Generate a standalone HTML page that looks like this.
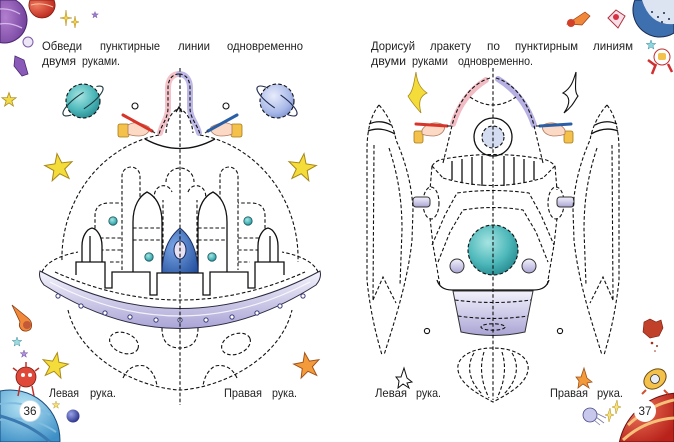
<!DOCTYPE html>
<html><head><meta charset="utf-8">
<style>
html,body{margin:0;padding:0;background:#fff;width:674px;height:442px;overflow:hidden;}
svg{display:block;}
text{font-family:"Liberation Sans",sans-serif;fill:#222;font-size:12px;}
.d{fill:none;stroke:#111;stroke-width:1.1;stroke-dasharray:3.6 2.2;}
.df{stroke:#111;stroke-width:1.1;stroke-dasharray:3.6 2.2;}
.s{fill:none;stroke:#111;stroke-width:1.3;}
.sw{fill:#fff;stroke:#111;stroke-width:1.3;}
</style></head>
<body>
<svg width="674" height="442" viewBox="0 0 674 442" xmlns="http://www.w3.org/2000/svg" overflow="hidden">
<defs>
<polygon id="star" points="0,-10 2.35,-3.24 9.51,-3.09 3.8,1.24 5.88,8.09 0,4 -5.88,8.09 -3.8,1.24 -9.51,-3.09 -2.35,-3.24"/>
<linearGradient id="lav" x1="0" y1="0" x2="0" y2="1"><stop offset="0" stop-color="#f2f1fb"/><stop offset="0.5" stop-color="#cfcce9"/><stop offset="1" stop-color="#a9a4d3"/></linearGradient>
<linearGradient id="band" x1="0" y1="0" x2="0" y2="1"><stop offset="0" stop-color="#f5f4fc"/><stop offset="1" stop-color="#aaa5d6"/></linearGradient>
<radialGradient id="teal" cx="0.4" cy="0.35" r="0.7"><stop offset="0" stop-color="#a6e4e2"/><stop offset="0.6" stop-color="#4fb9bb"/><stop offset="1" stop-color="#258a90"/></radialGradient>
<radialGradient id="lavp" cx="0.4" cy="0.35" r="0.7"><stop offset="0" stop-color="#e8ecfb"/><stop offset="0.7" stop-color="#a9b9e8"/><stop offset="1" stop-color="#7f93d2"/></radialGradient>
<radialGradient id="blueR" cx="0.35" cy="0.4" r="0.8"><stop offset="0" stop-color="#7aa6e6"/><stop offset="1" stop-color="#24509e"/></radialGradient>
<radialGradient id="ball" cx="0.35" cy="0.35" r="0.7"><stop offset="0" stop-color="#9aa4e6"/><stop offset="1" stop-color="#28308a"/></radialGradient>
<radialGradient id="redp" cx="0.3" cy="0.3" r="0.8"><stop offset="0" stop-color="#f07a5e"/><stop offset="1" stop-color="#b8221a"/></radialGradient>
<radialGradient id="bluep" cx="0.4" cy="0.3" r="0.8"><stop offset="0" stop-color="#b8e6f6"/><stop offset="1" stop-color="#3d8fc6"/></radialGradient>
<radialGradient id="purp" cx="0.2" cy="0.4" r="0.9"><stop offset="0" stop-color="#b37fd0"/><stop offset="1" stop-color="#6a3a96"/></radialGradient>
</defs>

<!-- ============ TOP-LEFT DECORATIONS ============ -->
<path d="M0,0 L15.36,0 A23,23 0 0 1 0,42.65 Z" fill="url(#purp)" stroke="#4a2570" stroke-width="1"/>
<path d="M0,9 Q10,8 20,14 M0,24 Q10,22 22,28" fill="none" stroke="#d6b8ea" stroke-width="1.3"/>
<path d="M30,0 A13,13 0 1 0 54,0 Z" fill="url(#redp)" stroke="#7a1a10" stroke-width="0.8"/>
<path d="M31,5 Q42,2 53,7" fill="none" stroke="#f6c0a0" stroke-width="1"/>
<circle cx="28" cy="42" r="5" fill="#ece6f7" stroke="#7a5aa6" stroke-width="1"/>
<path d="M15,56 L24,60 L28,74 L22,76 L14,66 Z" fill="#8a5ab8" stroke="#4a2a70" stroke-width="0.8"/>
<path d="M66,10 L67,17 L72,18 L67,19 L66,26 L65,19 L60,18 L65,17 Z" fill="#f2d34a" stroke="#b08a20" stroke-width="0.5"/>
<path d="M75,16 L76,21 L79,22 L76,23 L75,28 L74,23 L71,22 L74,21 Z" fill="#f2d34a" stroke="#b08a20" stroke-width="0.5"/>
<use href="#star" transform="translate(95,15) scale(0.35)" fill="#a07ad0" stroke="#5a3a90" stroke-width="1"/>
<use href="#star" transform="translate(9,100) scale(0.75)" fill="#f2da4a" stroke="#a88818" stroke-width="1"/>

<!-- ============ LEFT PAGE TEXT ============ -->
<text x="42" y="50" textLength="40" lengthAdjust="spacingAndGlyphs">Обведи</text>
<text x="100" y="50" textLength="60" lengthAdjust="spacingAndGlyphs">пунктирные</text>
<text x="178" y="50" textLength="32" lengthAdjust="spacingAndGlyphs">линии</text>
<text x="227" y="50" textLength="76" lengthAdjust="spacingAndGlyphs">одновременно</text>
<text x="42" y="65" textLength="34" lengthAdjust="spacingAndGlyphs">двумя</text>
<text x="82" y="65" textLength="38" lengthAdjust="spacingAndGlyphs">руками.</text>

<!-- planets left -->
<circle cx="83" cy="101" r="17" fill="url(#teal)" class="df"/>
<ellipse cx="83" cy="101" rx="24" ry="7" transform="rotate(-35 83 101)" fill="none" stroke="#1f3a40" stroke-width="1.1" stroke-dasharray="40 14" stroke-dashoffset="10"/>
<circle cx="277" cy="101" r="17" fill="url(#lavp)" class="df"/>
<ellipse cx="277" cy="101" rx="24" ry="7" transform="rotate(35 277 101)" fill="none" stroke="#1f2a50" stroke-width="1.1" stroke-dasharray="40 14" stroke-dashoffset="30"/>
<circle cx="135" cy="106" r="3" fill="#fff" stroke="#111" stroke-width="1.1"/>
<circle cx="226" cy="106" r="3" fill="#fff" stroke="#111" stroke-width="1.1"/>

<!-- stars left -->
<use href="#star" transform="translate(59,168) scale(1.45) rotate(-8)" fill="#f4dc3a" stroke="#a88818" stroke-width="0.7"/>
<use href="#star" transform="translate(302,168) scale(1.45) rotate(8)" fill="#f4dc3a" stroke="#a88818" stroke-width="0.7"/>

<!-- ============ UFO ============ -->
<path d="M179,74 C172,74 168,80 168,88 L168,108 C168,118 162,124 160,133" fill="none" stroke="#f4c3ca" stroke-width="6" stroke-linecap="round"/>
<path d="M179,74 C186,74 190,80 190,88 L190,108 C190,118 197,124 199,133" fill="none" stroke="#bdb8e6" stroke-width="6" stroke-linecap="round"/>
<path class="d" d="M179,74 C172,74 168,80 168,88 L168,108 C168,118 162,124 159,134"/>
<path class="d" d="M179,74 C186,74 190,80 190,88 L190,108 C190,118 197,124 200,134"/>
<path class="d" d="M166,133 Q167,114 179,108 Q191,114 193,133"/>
<path class="s" d="M176,112 L179,107 L182,112" stroke-width="1"/>

<!-- dome -->
<path class="d" d="M159,135 A118,125 0 0 0 62,262"/>
<path class="d" d="M200,135 A118,125 0 0 1 298,262"/>
<path class="s" d="M145,139 Q180,158 215,139"/>

<!-- dashed towers -->
<path class="d" d="M122,270 V176 A9,9 0 0 1 140,176 V270"/>
<path class="d" d="M220,270 V176 A9,9 0 0 1 238,176 V270"/>
<path class="d" d="M163,272 V200 M197,272 V200 M166,182 A14,14 0 0 1 194,182"/>
<path class="d" d="M155,200 A8,9 0 0 1 172,192 M188,192 A8,9 0 0 1 205,200"/>
<path class="d" d="M95,275 V216 Q95,203 109,203 L122,203"/>
<path class="d" d="M265,275 V216 Q265,203 251,203 L238,203"/>
<path class="d" d="M100,238 H122 M100,250 H122 M238,238 H260 M238,250 H260"/>
<path class="d" d="M110,262 H122 M238,262 H250"/>

<!-- solid rockets -->
<path class="sw" d="M133,275 V222 C133,205 140,196 147,192 C155,196 162,205 162,222 V275"/>
<path class="sw" d="M198,275 V222 C198,205 205,196 213,192 C220,196 227,205 227,222 V275"/>
<path class="d" d="M133,228 H162 M133,240 H162 M198,228 H227 M198,240 H227"/>
<path class="sw" d="M82,272 V246 C82,236 87,229 92,228 C97,229 102,236 102,246 V272"/>
<path class="sw" d="M258,272 V246 C258,236 263,229 268,228 C273,229 278,236 278,246 V272"/>
<path class="s" d="M90,236 V262 M270,236 V262" stroke-width="1"/>

<!-- blue rocket -->
<path d="M162,274 C162,250 170,236 180,228 C190,236 198,250 198,274 Z" fill="url(#blueR)" stroke="#1a2a60" stroke-width="1"/>
<ellipse cx="180" cy="250" rx="6" ry="9" fill="#e8e2f2" stroke="#1a2a60" stroke-width="1"/>

<!-- teal dots -->
<circle cx="113" cy="221" r="4.2" fill="url(#teal)" stroke="#1a5960" stroke-width="0.8"/>
<circle cx="248" cy="221" r="4.2" fill="url(#teal)" stroke="#1a5960" stroke-width="0.8"/>
<circle cx="149" cy="257" r="4.2" fill="url(#teal)" stroke="#1a5960" stroke-width="0.8"/>
<circle cx="212" cy="257" r="4.2" fill="url(#teal)" stroke="#1a5960" stroke-width="0.8"/>

<!-- wall -->
<path d="M74,262 L105,262 L105,288 L112,288 L112,272 L150,272 L150,295 L157,295 L157,273 L203,273 L203,295 L210,295 L210,272 L248,272 L248,288 L255,288 L255,262 L286,262 L290,280 Q180,330 70,280 Z" fill="#fff"/>
<path class="s" d="M76,275 L76,262 L105,262 L105,288 L112,288 L112,272 L150,272 L150,295 L157,295 L157,273 L203,273 L203,295 L210,295 L210,272 L248,272 L248,288 L255,288 L255,262 L284,262 L284,275"/>

<!-- rim -->
<path class="d" d="M42,272 Q48,258 78,252"/>
<path class="d" d="M318,272 Q312,258 282,252"/>
<path class="d" d="M55,272 Q180,328 305,272"/>
<path d="M40,271 Q180,346 320,271 Q322,278 316,285 Q180,372 44,285 Q38,278 40,271 Z" fill="url(#band)" stroke="#2a2a40" stroke-width="1"/>
<path d="M50,282 Q180,350 310,282" fill="none" stroke="#fff" stroke-width="1.2" opacity="0.8"/>
<g fill="#fff" stroke="#3a3a7a" stroke-width="1">
<circle cx="58" cy="296" r="2.1"/><circle cx="81" cy="306" r="2.1"/><circle cx="105" cy="313" r="2.1"/><circle cx="130" cy="317" r="2.1"/><circle cx="156" cy="320" r="2.1"/><circle cx="180" cy="320" r="2.1"/><circle cx="206" cy="320" r="2.1"/><circle cx="232" cy="317" r="2.1"/><circle cx="257" cy="313" r="2.1"/><circle cx="280" cy="306" r="2.1"/><circle cx="303" cy="296" r="2.1"/>
</g>

<!-- bowl -->
<path class="d" d="M68,310 C80,360 140,388 180,390 C220,388 280,360 292,310"/>
<ellipse class="d" cx="124" cy="343" rx="15" ry="10" transform="rotate(22 124 343)"/>
<ellipse class="d" cx="236" cy="344" rx="15" ry="10" transform="rotate(-22 236 344)"/>
<path class="d" d="M162,328 Q162,348 180,348 Q198,348 198,328"/>
<path class="d" d="M123,378 Q130,363 145,366 Q155,372 157,386"/>
<path class="d" d="M237,378 Q230,363 215,366 Q205,372 203,386"/>

<!-- center line left -->
<path class="d" d="M180,68 V405"/>

<!-- left page hands -->
<g transform="translate(118,113)">
 <rect x="0" y="11" width="11" height="13" rx="2" fill="#f4c24a" stroke="#a67a1a" stroke-width="0.8"/>
 <path d="M10,12 C16,8 24,10 31,14 C33,18 28,23 21,23 C15,23 12,22 10,21 Z" fill="#fbd9c4" stroke="#b07a60" stroke-width="0.8"/>
 <path d="M5,2 L34,18" stroke="#d8342a" stroke-width="3" stroke-linecap="round"/>
 <path d="M34,18 L37,20" stroke="#333" stroke-width="1.2"/>
</g>
<g transform="translate(242,113) scale(-1,1)">
 <rect x="0" y="11" width="11" height="13" rx="2" fill="#f4c24a" stroke="#a67a1a" stroke-width="0.8"/>
 <path d="M10,12 C16,8 24,10 31,14 C33,18 28,23 21,23 C15,23 12,22 10,21 Z" fill="#fbd9c4" stroke="#b07a60" stroke-width="0.8"/>
 <path d="M5,2 L34,18" stroke="#2a5fa8" stroke-width="3" stroke-linecap="round"/>
 <path d="M34,18 L37,20" stroke="#333" stroke-width="1.2"/>
</g>

<!-- labels left -->
<text x="49" y="397" textLength="30" lengthAdjust="spacingAndGlyphs">Левая</text>
<text x="90" y="397" textLength="26" lengthAdjust="spacingAndGlyphs">рука.</text>
<text x="224" y="397" textLength="38" lengthAdjust="spacingAndGlyphs">Правая</text>
<text x="272" y="397" textLength="25" lengthAdjust="spacingAndGlyphs">рука.</text>

<!-- bottom-left decorations -->
<path d="M12,305 L28,318 C33,322 33,330 27,331 C21,332 18,326 20,322 Z" fill="#f08a3a" stroke="#8a3a10" stroke-width="0.8"/>
<circle cx="27" cy="325" r="4" fill="#c25a3a"/>
<use href="#star" transform="translate(17,342) scale(0.5)" fill="#9fdce0" stroke="#3a8a9a" stroke-width="1"/>
<use href="#star" transform="translate(24,354) scale(0.4)" fill="#b090dc" stroke="#5a3a90" stroke-width="1"/>
<use href="#star" transform="translate(55,366) scale(1.35) rotate(10)" fill="#f4dc3a" stroke="#a88818" stroke-width="0.7"/>
<path d="M0,391 A50,50 0 0 1 59.9,442 L0,442 Z" fill="url(#bluep)" stroke="#1a4a7a" stroke-width="1"/>
<path d="M0,404 Q25,400 50,415 M0,420 Q30,414 56,432" fill="none" stroke="#7fbce0" stroke-width="2"/>
<path d="M0,416 Q30,424 50,442" fill="none" stroke="#3a7ab0" stroke-width="3"/>
<circle cx="26" cy="377" r="10" fill="#e0483a" stroke="#7a1a10" stroke-width="0.8"/>
<path d="M20,386 L18,396 M32,386 L34,396 M26,367 V362 M17,371 L13,368 M35,371 L39,368" stroke="#c0302a" stroke-width="1.5"/>
<circle cx="23" cy="375" r="2" fill="#fff"/><circle cx="30" cy="375" r="2" fill="#fff"/>
<circle cx="30" cy="411" r="10.5" fill="#fff" stroke="#d0e0ee" stroke-width="0.8"/>
<text x="30" y="415" text-anchor="middle" font-size="11" textLength="13" lengthAdjust="spacingAndGlyphs">36</text>
<circle cx="73" cy="416" r="6.5" fill="url(#ball)"/>
<use href="#star" transform="translate(56,405) scale(0.4)" fill="#f6e07a" stroke="#b09020" stroke-width="1"/>
<use href="#star" transform="translate(307,366) scale(1.35) rotate(-10)" fill="#f39a3a" stroke="#a0501a" stroke-width="0.7"/>

<!-- ============ RIGHT PAGE TEXT ============ -->
<text x="371" y="50" textLength="44" lengthAdjust="spacingAndGlyphs">Дорисуй</text>
<text x="430" y="50" textLength="41" lengthAdjust="spacingAndGlyphs">лракету</text>
<text x="487" y="50" textLength="13" lengthAdjust="spacingAndGlyphs">по</text>
<text x="515" y="50" textLength="63" lengthAdjust="spacingAndGlyphs">пунктирным</text>
<text x="593" y="50" textLength="40" lengthAdjust="spacingAndGlyphs">линиям</text>
<text x="371" y="65" textLength="35" lengthAdjust="spacingAndGlyphs">двуми</text>
<text x="412" y="65" textLength="36" lengthAdjust="spacingAndGlyphs">руками</text>
<text x="458" y="65" textLength="75" lengthAdjust="spacingAndGlyphs">одновременно.</text>

<!-- top-right decorations -->
<path d="M567,24 L585,12 L590,16 L582,25 Z" fill="#f0873a" stroke="#9a3a10" stroke-width="0.7"/>
<circle cx="571" cy="23" r="4" fill="#d2402a"/>
<path d="M608,18 L616,10 L625,16 L618,28 Z" fill="#f6e0e8" stroke="#b03040" stroke-width="1"/>
<circle cx="616" cy="17" r="3" fill="#d83040"/>
<path d="M634.9,0 A27,27 0 0 0 674,33.1 L674,0 Z" fill="#3e6fae" stroke="#1a2a50" stroke-width="1"/>
<path d="M642,0 Q650,26 674,24 L674,0 Z" fill="#dce4f2"/>
<g fill="#1a2a50"><circle cx="652" cy="12" r="1"/><circle cx="658" cy="17" r="1"/><circle cx="664" cy="13" r="1"/><circle cx="662" cy="22" r="1"/><circle cx="669" cy="19" r="1"/></g>
<use href="#star" transform="translate(651,45) scale(0.5)" fill="#8fd6e0" stroke="#3a8a9a" stroke-width="1"/>
<circle cx="662" cy="57" r="8" fill="#fff" stroke="#c03030" stroke-width="1"/>
<rect x="658" y="53" width="8" height="7" rx="2" fill="#f4c24a"/>
<path d="M656,64 L652,74 M668,64 L672,72 M656,66 L648,60" stroke="#d03030" stroke-width="2.5"/>

<!-- right page stars -->
<path d="M416,72 C417,82 420,88 427,93 C420,96 418,102 421,113 C414,105 410,100 408,96 C413,92 414,82 416,72 Z" fill="#f4dc3a" stroke="#a88818" stroke-width="0.8"/>
<path d="M576,72 C573,82 571,88 563,93 C570,96 571,103 564,113 C573,106 575,100 578,96 C574,92 576,82 576,72 Z" fill="#fff" stroke="#111" stroke-width="1.1"/>

<!-- ============ ROCKET ============ -->
<path d="M486,80 Q462,95 453,124" fill="none" stroke="#f2bcc4" stroke-width="6" stroke-linecap="round"/>
<path d="M498,79 Q524,95 534,125" fill="none" stroke="#b6b1e2" stroke-width="6" stroke-linecap="round"/>
<path class="d" d="M490,78 C470,84 456,105 451,130 L443,163"/>
<path class="d" d="M496,78 C516,84 530,105 535,130 L543,163"/>
<path class="d" d="M470,97 Q493,113 516,97"/>
<circle cx="493" cy="137" r="19" class="sw" stroke-width="1.5"/>
<circle cx="493" cy="137" r="11" fill="#d4dcf2" class="df"/>

<!-- collar -->
<path class="d" d="M432,166 Q436,160 444,159 Q493,150 542,159 Q550,160 555,166"/>
<path class="d" d="M443,178 Q493,193 543,178"/>
<path class="d" d="M432,166 L443,178 M555,166 L543,178"/>
<g class="s" stroke-width="1.2">
<path d="M452,161 V180 M462,159 V183 M472,157 V185 M482,156 V186 M504,156 V186 M514,157 V185 M524,159 V183 M534,161 V180"/>
</g>

<!-- body sides -->
<path class="d" d="M432,166 L430,190 M430,218 L433,245 L437,268 L440,286"/>
<path class="d" d="M555,166 L557,190 M557,218 L554,245 L550,268 L547,286"/>
<ellipse class="d" cx="431" cy="203" rx="8" ry="16"/>
<ellipse class="d" cx="556" cy="203" rx="8" ry="16"/>
<rect x="413" y="197" width="17" height="10" rx="3" fill="url(#lav)" stroke="#333" stroke-width="1"/>
<rect x="557" y="197" width="17" height="10" rx="3" fill="url(#lav)" stroke="#333" stroke-width="1"/>

<!-- chevrons -->
<path class="d" d="M432,245 L445,215 L457,193 Q493,188 529,193 L541,215 L554,245"/>
<path class="d" d="M438,262 L450,232 L463,210 Q493,205 523,210 L536,232 L548,262"/>

<path class="s" d="M437,280 Q440,290 452,290 L534,290 Q546,290 549,280" stroke-width="1.1"/>

<!-- sphere & circles -->
<circle cx="493" cy="250" r="25" fill="url(#teal)" class="df"/>
<circle cx="457" cy="266" r="7" fill="url(#lav)" stroke="#333" stroke-width="1"/>
<circle cx="529" cy="266" r="7" fill="url(#lav)" stroke="#333" stroke-width="1"/>

<!-- nozzle -->
<path d="M453,291 L533,291 L525,332 Q493,339 461,332 Z" fill="url(#lav)" stroke="#333" stroke-width="1"/>
<path class="d" d="M455,300 Q493,305 531,300"/>
<path class="d" d="M458,316 Q493,321 528,316"/>
<ellipse class="d" cx="493" cy="327" rx="12" ry="3.2"/>

<!-- flame -->
<path class="d" d="M493,348 C470,348 456,358 458,370 C460,385 480,395 493,402 C506,395 526,385 528,370 C530,358 516,348 493,348 Z"/>
<path class="d" d="M474,353 C466,366 469,381 482,394 M484,352 C479,368 482,384 489,398 M512,353 C520,366 517,381 504,394 M502,352 C507,368 504,384 497,398"/>

<circle cx="427" cy="331" r="2.6" fill="#fff" stroke="#111" stroke-width="1.1"/>
<circle cx="560" cy="331" r="2.6" fill="#fff" stroke="#111" stroke-width="1.1"/>

<!-- center line right -->
<path class="d" d="M493,68 V400"/>

<!-- boosters -->
<g>
<path class="d" d="M379,105 C371,115 367,130 367,150 L367,280 C370,310 376,335 382,355"/>
<path class="d" d="M379,105 C388,115 394,128 396,140 C405,160 412,185 413,210 L412,240 C408,280 395,320 384,355"/>
<path class="d" d="M374,145 L373,300"/>
<path class="d" d="M389,148 C398,175 402,200 402,230 L400,285"/>
<path class="d" d="M373,300 L383,277 L396,303"/>
<path class="s" d="M369,124 Q380,119 391,125 M368,131 Q381,126 395,134" stroke-width="1.2"/>
</g>
<g transform="translate(986,0) scale(-1,1)">
<path class="d" d="M379,105 C371,115 367,130 367,150 L367,280 C370,310 376,335 382,355"/>
<path class="d" d="M379,105 C388,115 394,128 396,140 C405,160 412,185 413,210 L412,240 C408,280 395,320 384,355"/>
<path class="d" d="M374,145 L373,300"/>
<path class="d" d="M389,148 C398,175 402,200 402,230 L400,285"/>
<path class="d" d="M373,300 L383,277 L396,303"/>
<path class="s" d="M369,124 Q380,119 391,125 M368,131 Q381,126 395,134" stroke-width="1.2"/>
</g>

<!-- right page hands -->
<g transform="translate(414,114)">
 <rect x="0" y="17" width="9" height="12" rx="2" fill="#f4c24a" stroke="#a67a1a" stroke-width="0.8"/>
 <path d="M8,16 C12,9 22,7 30,11 C32,16 28,21 20,22 C14,22 10,21 8,20 Z" fill="#fbd9c4" stroke="#b07a60" stroke-width="0.8"/>
 <path d="M2,10 L33,12" stroke="#d8342a" stroke-width="3" stroke-linecap="round"/>
 <path d="M33,12 L37,12" stroke="#333" stroke-width="1.2"/>
</g>
<g transform="translate(573,114) scale(-1,1)">
 <rect x="0" y="17" width="9" height="12" rx="2" fill="#f4c24a" stroke="#a67a1a" stroke-width="0.8"/>
 <path d="M8,16 C12,9 22,7 30,11 C32,16 28,21 20,22 C14,22 10,21 8,20 Z" fill="#fbd9c4" stroke="#b07a60" stroke-width="0.8"/>
 <path d="M2,10 L33,12" stroke="#2a5fa8" stroke-width="3" stroke-linecap="round"/>
 <path d="M33,12 L37,12" stroke="#333" stroke-width="1.2"/>
</g>

<!-- labels right -->
<text x="375" y="397" textLength="32" lengthAdjust="spacingAndGlyphs">Левая</text>
<text x="416" y="397" textLength="25" lengthAdjust="spacingAndGlyphs">рука.</text>
<text x="550" y="397" textLength="38" lengthAdjust="spacingAndGlyphs">Правая</text>
<text x="597" y="397" textLength="26" lengthAdjust="spacingAndGlyphs">рука.</text>

<!-- bottom-right decorations -->
<path d="M404,368 L407,378 L412,382 L407,383 L409,388 L403,384 L398,388 L399,381 L396,377 L401,377 Z" fill="#fff" stroke="#111" stroke-width="1"/>
<path d="M584,368 L587,378 L592,382 L587,383 L589,388 L583,384 L578,388 L579,381 L576,377 L581,377 Z" fill="#f39a3a" stroke="#a0501a" stroke-width="0.8"/>
<path d="M644,322 L650,319 L656,322 L661,320 L663,328 L659,336 L650,338 L643,332 Z" fill="#c0402a" stroke="#7a1a10" stroke-width="0.6"/>
<circle cx="652" cy="343" r="1.3" fill="#a0301a"/><circle cx="657" cy="346" r="1" fill="#a0301a"/><circle cx="655" cy="351" r="0.8" fill="#a0301a"/>
<path d="M619.4,442 A62,62 0 0 1 674,393.3 L674,442 Z" fill="url(#redp)" stroke="#6a1010" stroke-width="1"/>
<path d="M628,425 Q650,405 674,400 M623,440 Q645,420 674,418" fill="none" stroke="#f4c07a" stroke-width="3"/>
<circle cx="645" cy="411" r="11" fill="#fff"/>
<text x="645" y="415" text-anchor="middle" font-size="11" textLength="13" lengthAdjust="spacingAndGlyphs">37</text>
<ellipse cx="655" cy="379" rx="12" ry="9" transform="rotate(-35 655 379)" fill="#f4c24a" stroke="#6a4a10" stroke-width="1"/>
<circle cx="655" cy="379" r="4.5" fill="#e8eef8" stroke="#333" stroke-width="0.8"/>
<path d="M646,390 L642,394 M664,390 L668,394" stroke="#d05030" stroke-width="2"/>
<circle cx="590" cy="415" r="7" fill="#c8c8ec" stroke="#4a4a8a" stroke-width="0.8"/>
<path d="M596,413 L606,418 M596,417 L604,423 M594,420 L600,425" stroke="#7a7aa8" stroke-width="0.8"/>
<path d="M610,408 L611,414 L614,415 L611,416 L609,422 L608,416 L605,415 L608,414 Z" fill="#f6e07a" stroke="#b09020" stroke-width="0.5"/>
<path d="M617,400 L618,406 L621,407 L618,408 L616,414 L615,408 L612,407 L615,406 Z" fill="#f6e07a" stroke="#b09020" stroke-width="0.5"/>
</svg>
</body></html>
